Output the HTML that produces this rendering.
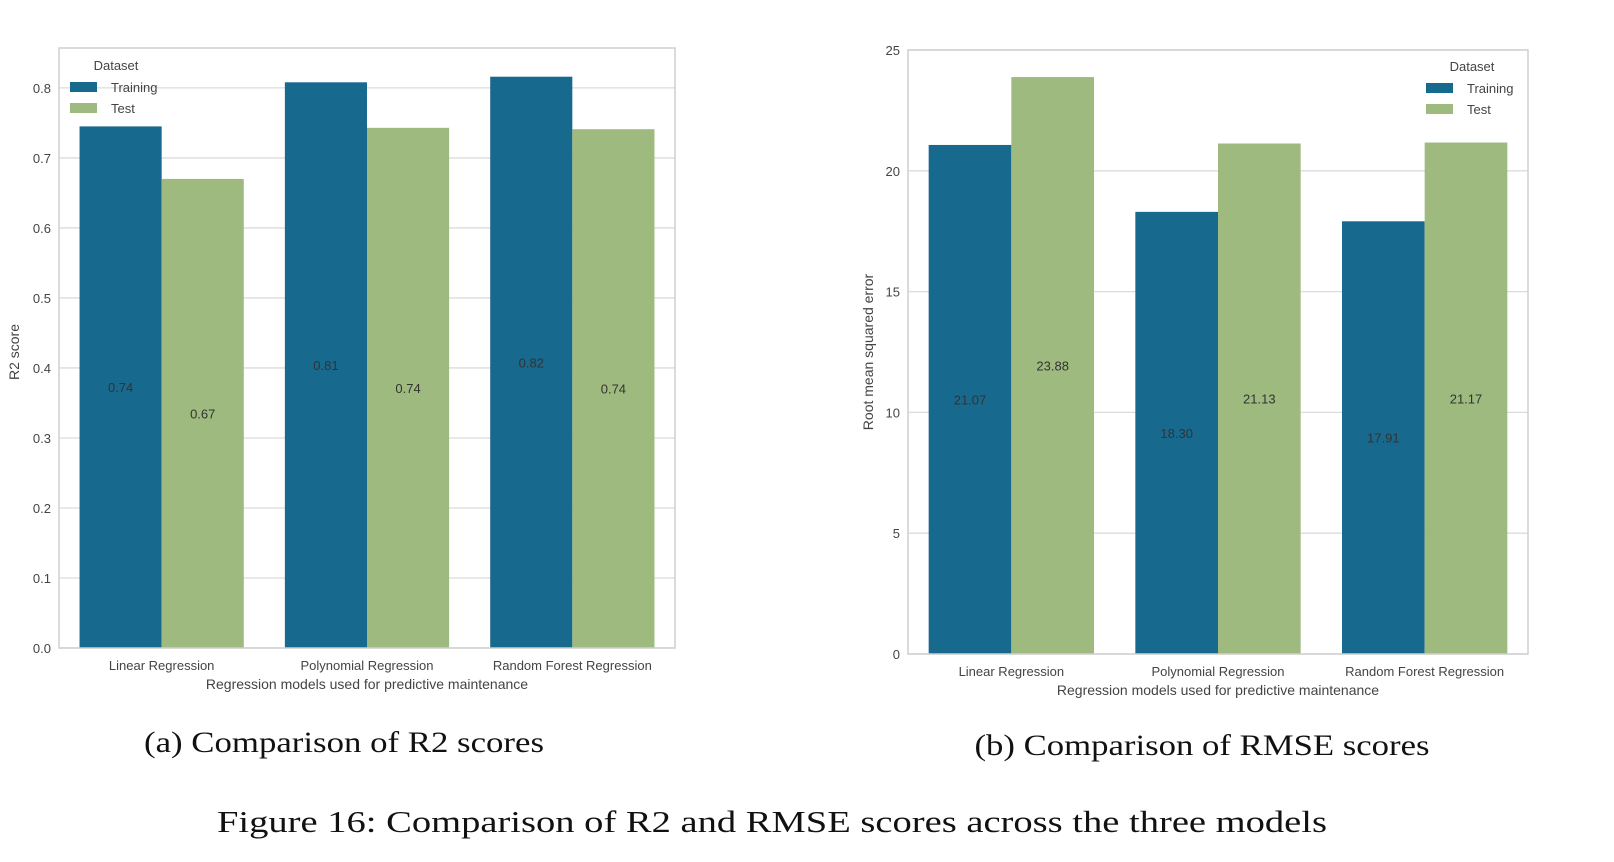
<!DOCTYPE html>
<html><head><meta charset="utf-8"><style>
html,body{margin:0;padding:0;background:#fff;}
svg{display:block;font-family:"Liberation Sans",sans-serif;}
</style></head><body>
<svg id="fig" width="1614" height="862">
<text x="344" y="752" font-family="Liberation Serif,serif" font-size="30" text-anchor="middle" textLength="400" lengthAdjust="spacingAndGlyphs" fill="#111">(a) Comparison of R2 scores</text>
<text x="1202" y="755" font-family="Liberation Serif,serif" font-size="30" text-anchor="middle" textLength="455" lengthAdjust="spacingAndGlyphs" fill="#111">(b) Comparison of RMSE scores</text>
<text x="772" y="832" font-family="Liberation Serif,serif" font-size="31" text-anchor="middle" textLength="1110" lengthAdjust="spacingAndGlyphs" fill="#111">Figure 16: Comparison of R2 and RMSE scores across the three models</text>
</svg>
<script>
const categories = ["Linear Regression","Polynomial Regression","Random Forest Regression"];
const seriesNames = ["Training","Test"];
const r2Train = [0.745, 0.808, 0.816];
const r2Test = [0.670, 0.743, 0.741];
const r2Labels = [["0.74","0.81","0.82"],["0.67","0.74","0.74"]];
const r2Ticks = [0.0,0.1,0.2,0.3,0.4,0.5,0.6,0.7,0.8];
const rmseTrain = [21.07, 18.30, 17.91];
const rmseTest = [23.88, 21.13, 21.17];
const rmseLabels = [["21.07","18.30","17.91"],["23.88","21.13","21.17"]];
const rmseTicks = [0,5,10,15,20,25];

const NS = "http://www.w3.org/2000/svg";
const svg = document.getElementById('fig');
const colors = ["#18698e","#9fba7f"];
function mk(tag, attrs, parent){const e=document.createElementNS(NS,tag);for(const k in attrs)e.setAttribute(k,attrs[k]);(parent||svg).appendChild(e);return e;}

function chart(cfg){
  const g = mk('g',{});
  
  
  const {x0,x1,y0,y1,ymax} = cfg;
  const yScale = v => y1 - v/ymax*(y1-y0);
  const band = (x1-x0)/3;
  const xCenter = i => x0 + band*(i+0.5);
  const bw = band*0.4;
  cfg.ticks.forEach((t,i)=>{
    const y=yScale(t);
    const l=mk('line',{x1:x0,x2:x1,y1:y,y2:y,stroke:"#dcdcdc","stroke-width":1.3},g);
    
    
    const tx=mk('text',{x:x0-8,y:y+5,"font-size":13,fill:"#444","text-anchor":"end"},g);
    tx.textContent=cfg.tickLabels[i];
    
    
  });
  [cfg.train,cfg.test].forEach((vals,s)=>{
    vals.forEach((v,i)=>{
      const x = xCenter(i) - bw + s*bw;
      const r=mk('rect',{x:x,y:yScale(v),width:bw,height:y1-yScale(v),fill:colors[s]},g);
      
      
      const t=mk('text',{x:x+bw/2,y:yScale(v/2)+5,"font-size":13,fill:"#333","text-anchor":"middle"},g);
      t.textContent=cfg.labels[s][i];
      
      
    });
  });
  const f=mk('rect',{x:x0,y:y0,width:x1-x0,height:y1-y0,fill:"none",stroke:"#cfcfcf","stroke-width":1.5},g);
  
  
  categories.forEach((c,i)=>{
    const t=mk('text',{x:xCenter(i),y:y1+22,"font-size":13,fill:"#444","text-anchor":"middle"},g);
    t.textContent=c;
    
    
  });
  const xl=mk('text',{x:(x0+x1)/2,y:y1+41,"font-size":14,fill:"#444","text-anchor":"middle"},g);
  xl.textContent="Regression models used for predictive maintenance";
  
  
  const yl=mk('text',{x:0,y:0,"font-size":14,fill:"#444","text-anchor":"middle",transform:`translate(${cfg.ylx},352) rotate(-90)`},g);
  yl.textContent=cfg.ytitle;
  
  
  const lg=mk('g',{},g);
  
  
  const lt=mk('text',{x:cfg.lx+46,y:cfg.ly+5,"font-size":13,fill:"#444","text-anchor":"middle"},lg);
  lt.textContent="Dataset";
  
  
  seriesNames.forEach((n,s)=>{
    const yy=cfg.ly+22+s*21;
    const sw=mk('rect',{x:cfg.lx,y:yy-5,width:27,height:10,fill:colors[s]},lg);
    
    
    const tt=mk('text',{x:cfg.lx+41,y:yy+5,"font-size":13,fill:"#444"},lg);
    tt.textContent=n;
    
    
  });
}
chart({name:'r2-chart',x0:59,x1:675,y0:48,y1:648,ymax:0.857,ticks:r2Ticks,tickLabels:r2Ticks.map(t=>t.toFixed(1)),
  train:r2Train,test:r2Test,labels:r2Labels,ytitle:"R2 score",ylx:19,lx:70,ly:65});
chart({name:'rmse-chart',x0:908,x1:1528,y0:50,y1:654,ymax:25,ticks:rmseTicks,tickLabels:rmseTicks.map(String),
  train:rmseTrain,test:rmseTest,labels:rmseLabels,ytitle:"Root mean squared error",ylx:873,lx:1426,ly:66});
</script>
</body></html>
